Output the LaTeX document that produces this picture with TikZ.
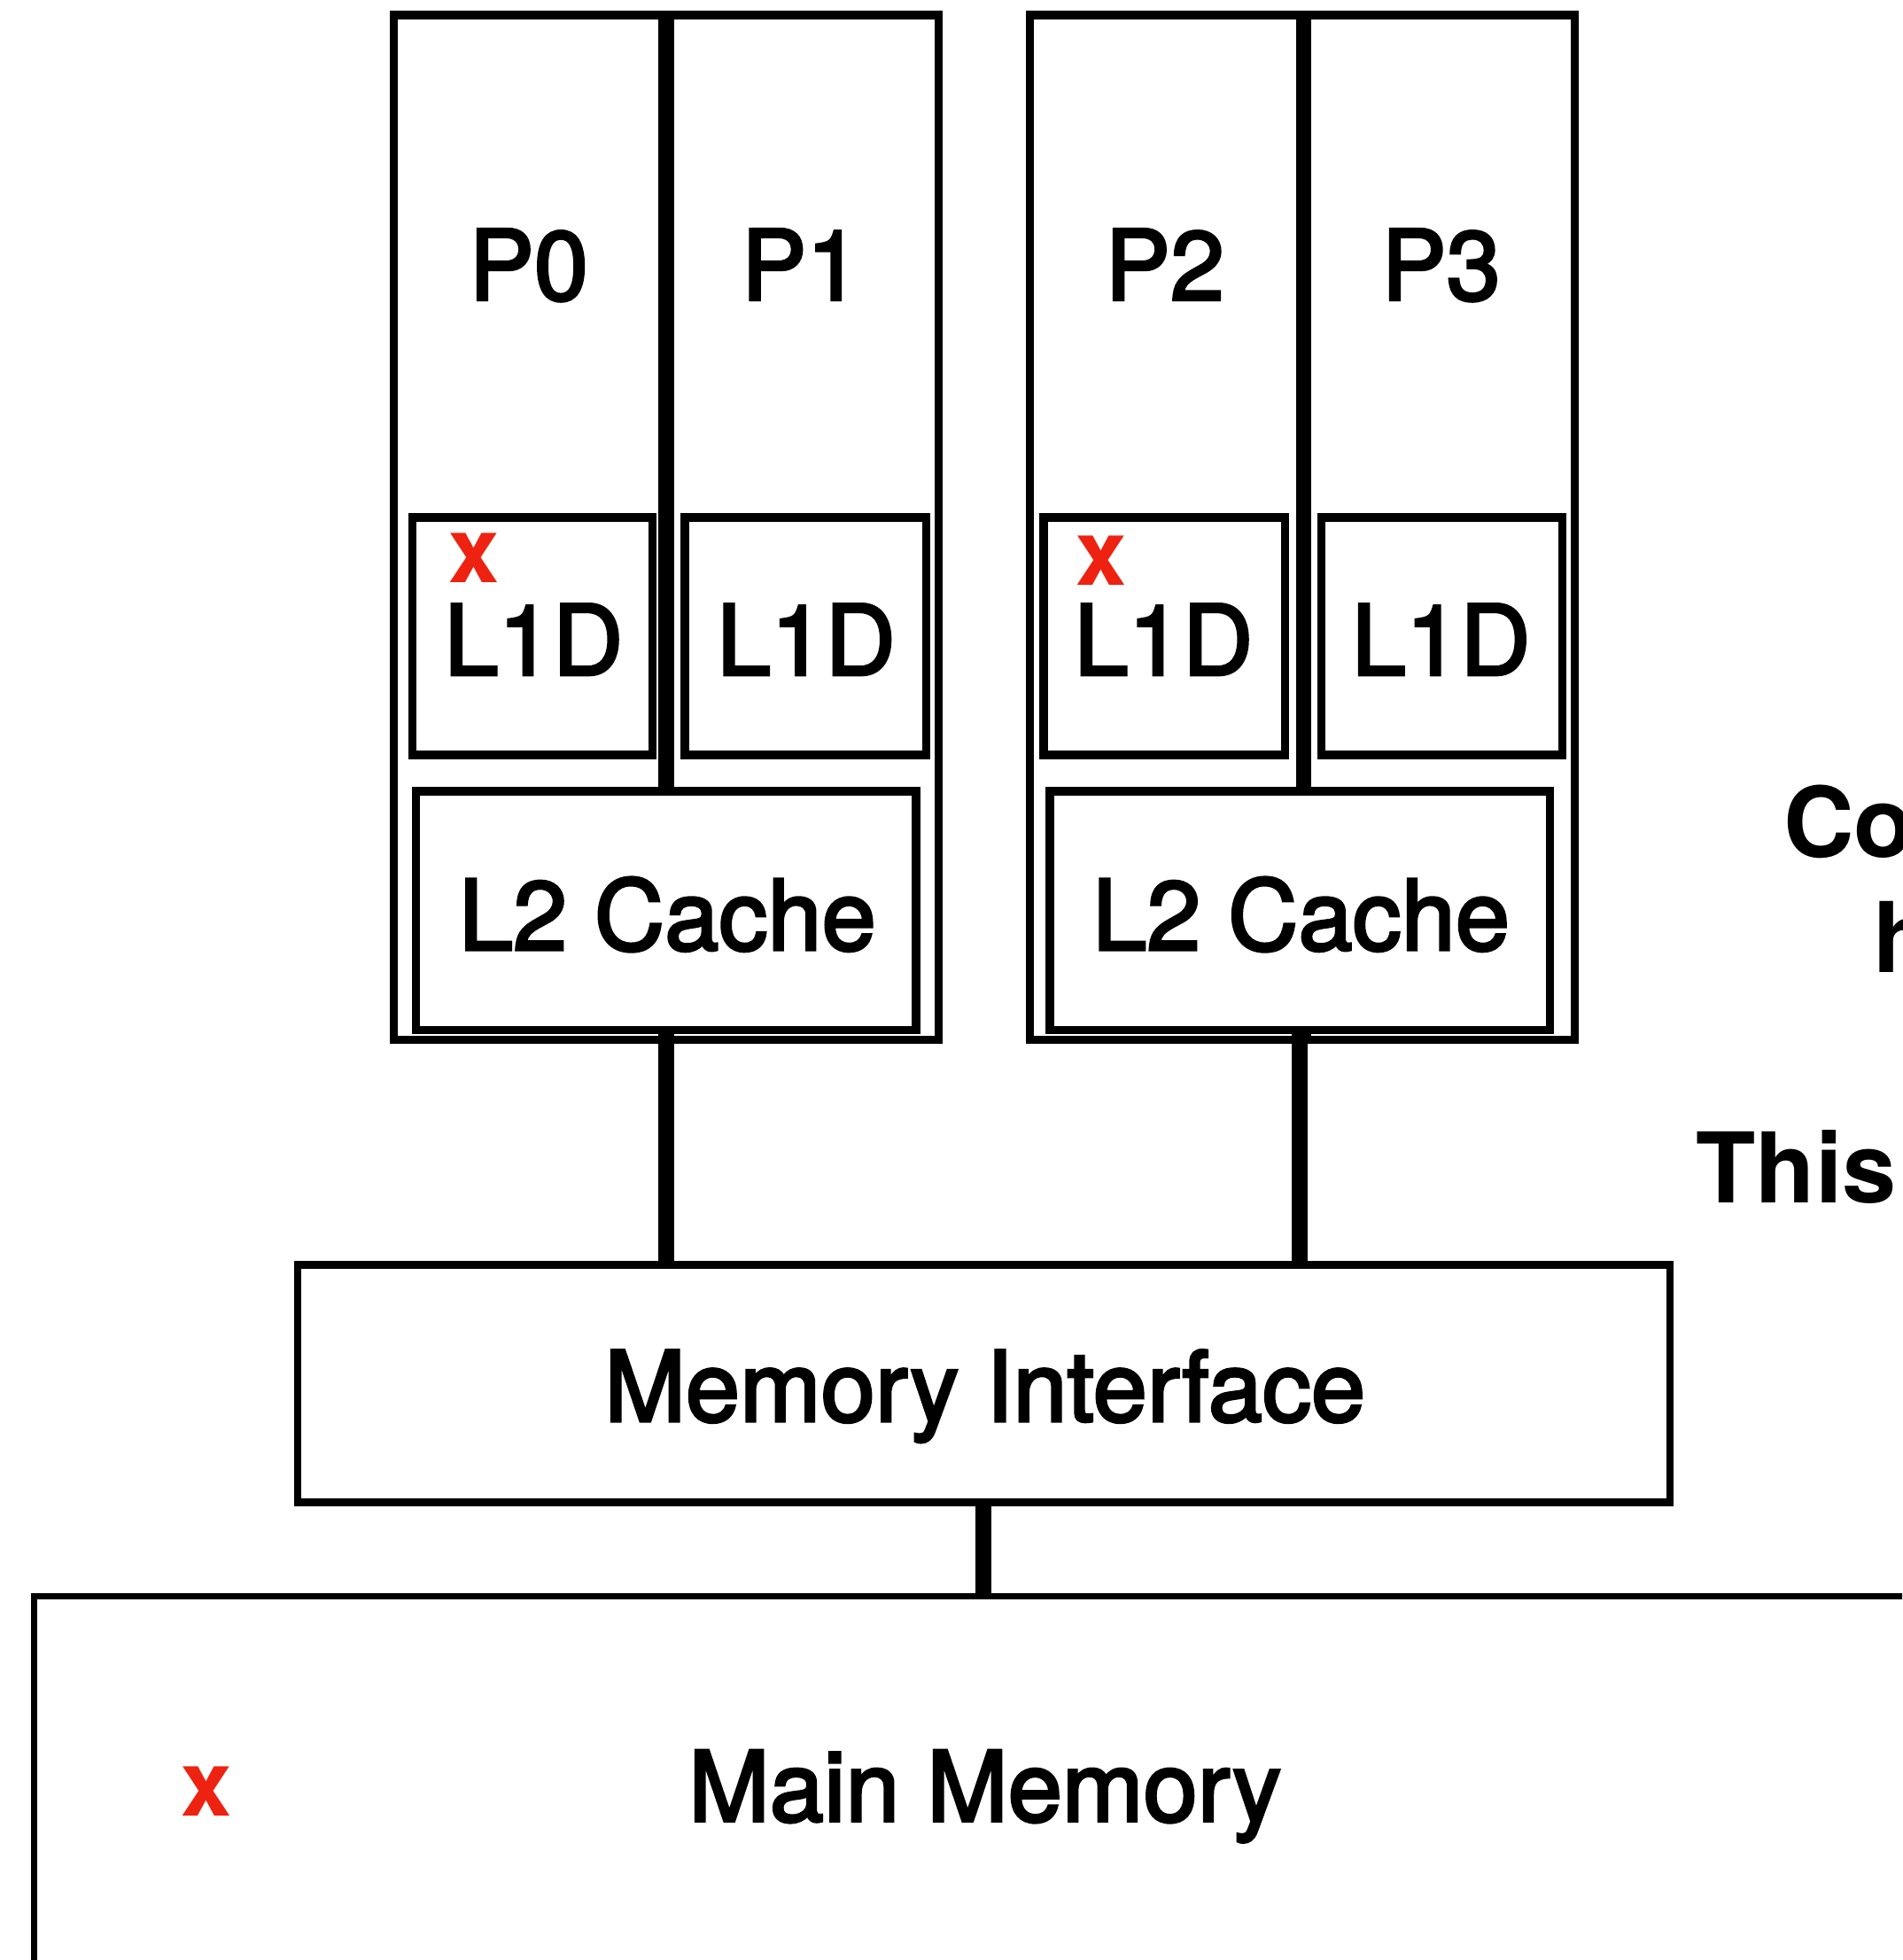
\documentclass[tikz,border=0pt]{standalone}
\usepackage{fontspec}
\setmainfont{TeX Gyre Heros}
\newfontfamily\medfont{TeX Gyre Heros}[FakeBold=2.8]
\definecolor{markred}{RGB}{238,34,17}
\begin{document}
\begin{tikzpicture}[x=1pt,y=-1pt,
  unit/.style={draw, line width=6.5pt, inner sep=0pt, fill=white},
  bus/.style={line width=13pt, line cap=butt},
  lbl/.style={inner sep=0pt, font=\medfont\fontsize{78}{90}\selectfont, anchor=base},
  boldlbl/.style={inner sep=0pt, font=\fontsize{78}{90}\selectfont\bfseries, anchor=base west},
  redx/.style={inner sep=0pt, text=markred, font=\fontsize{73}{80}\selectfont\bfseries, anchor=base}]
\useasboundingbox (0,0) rectangle (1522,1568);
\clip (0,0) rectangle (1522,1568);

% processor columns
\node[unit, minimum width=215pt, minimum height=820pt] (p0) at (422.5,422) {};
\node[unit, minimum width=215pt, minimum height=820pt] (p1) at (643.5,422) {};
\node[unit, minimum width=216pt, minimum height=820pt] (p2) at (932,422) {};
\node[unit, minimum width=214pt, minimum height=820pt] (p3) at (1153,422) {};

\node[lbl] (p0t) at (423,240) {P0};
\node[lbl] (p1t) at (641,240) {P1};
\node[lbl] (p2t) at (932,240) {P2};
\node[lbl] (p3t) at (1153,240) {P3};

% private L1 data caches
\node[unit, minimum width=192pt, minimum height=190pt] (l1a) at (426,509) {};
\node[unit, minimum width=193pt, minimum height=190pt] (l1b) at (644.5,509) {};
\node[unit, minimum width=193pt, minimum height=190pt] (l1c) at (931.5,509) {};
\node[unit, minimum width=193pt, minimum height=190pt] (l1d) at (1153.5,509) {};

\node[lbl] (l1at) at (427,540) {L1D};
\node[lbl] (l1bt) at (645,540) {L1D};
\node[lbl] (l1ct) at (931,540) {L1D};
\node[lbl] (l1dt) at (1153,540) {L1D};

\node[redx] (xa) at (379,466) {x};
\node[redx] (xc) at (881,468) {x};

% shared L2 caches
\node[unit, minimum width=400pt, minimum height=191pt] (l2a) at (533,728.5) {};
\node[unit, minimum width=400pt, minimum height=191pt] (l2b) at (1040,728.5) {};
\node[lbl] (l2at) at (534,760) {L2 Cache};
\node[lbl] (l2bt) at (1041,760) {L2 Cache};

% memory interface and main memory
\node[unit, line width=6pt, minimum width=1098pt, minimum height=190pt] (mi) at (787,1107) {};
\node[lbl] (mit) at (788,1137) {Memory Interface};

\node[unit, line width=5pt, minimum width=1673pt, minimum height=523pt] (mm) at (863.5,1538.5) {};
\node[lbl] (mmt) at (788,1457) {Main Memory};
\node[redx] (xm) at (165,1453) {x};

% buses
\draw[bus] (l2a.south) -- (l2a.south |- mi.north);
\draw[bus] (l2b.south) -- (l2b.south |- mi.north);
\draw[bus] (mi.south) -- (mi.south |- mm.north);

% side notes
\node[boldlbl] (n1) at (1427,686) {Co};
\node[boldlbl] (n2) at (1499,778) {h};
\node[boldlbl] (n3) at (1357,962) {This};
\end{tikzpicture}
\end{document}
